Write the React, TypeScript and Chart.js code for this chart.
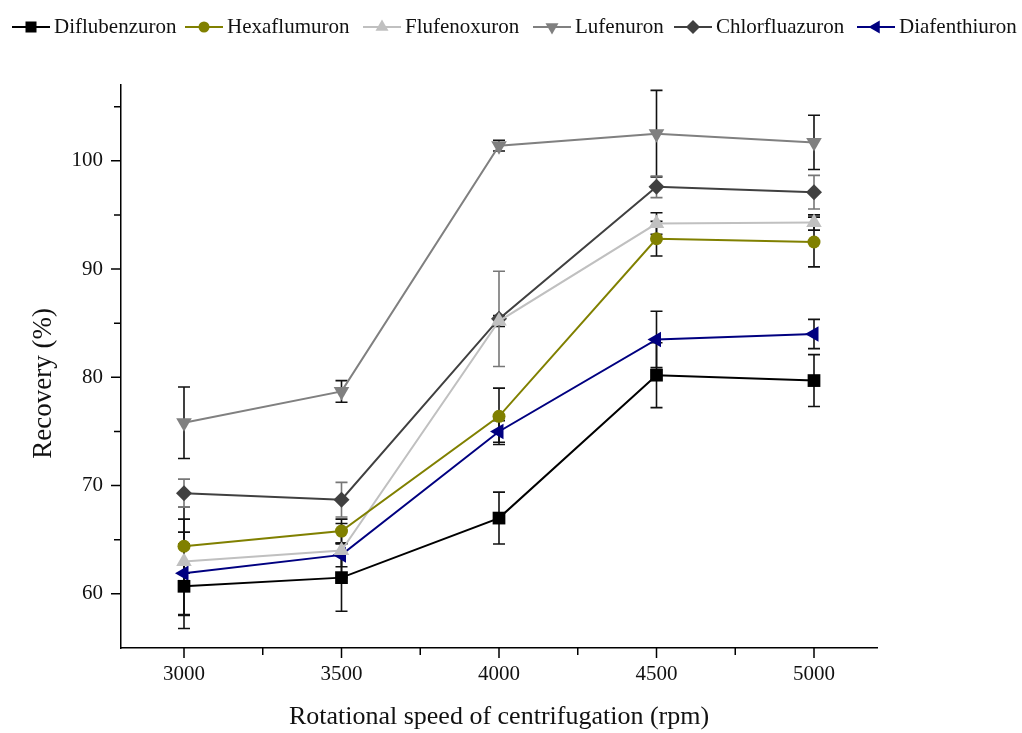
import React, { useEffect, useRef } from 'react';
import { Chart, registerables } from 'chart.js';

Chart.register(...registerables);

// ---- data ----
const speeds = [3000, 3500, 4000, 4500, 5000];

const diflubenzuron = [60.7, 61.5, 67.0, 80.2, 79.7];
const diflubenzuronErr = [3.9, 3.1, 2.4, 3.0, 2.4];

const hexaflumuron = [64.4, 65.8, 76.4, 92.8, 92.5];
const hexaflumuronErr = [2.5, 1.1, 2.6, 1.6, 2.3];

const flufenoxuron = [63.0, 64.0, 85.2, 94.2, 94.3];
const flufenoxuronErr = [5.0, 2.5, 0.5, 1.0, 0.7];

const lufenuron = [75.8, 78.7, 101.4, 102.5, 101.7];
const lufenuronErr = [3.3, 1.0, 0.5, 4.0, 2.5];

const chlorfluazuron = [69.3, 68.7, 85.4, 97.6, 97.1];
const chlorfluazuronErr = [1.3, 1.6, 4.4, 1.0, 1.55];

const diafenthiuron = [61.9, 63.6, 75.0, 83.5, 84.0];
const diafenthiuronErr = [3.8, 1.1, 1.0, 2.6, 1.35];

const yMajorTicks = [60, 70, 80, 90, 100];
const yMinorTicks = [65, 75, 85, 95, 105];
const xMajorTicks = [3000, 3500, 4000, 4500, 5000];
const xMinorTicks = [3250, 3750, 4250, 4750];

// ---- styles ----
const FONT = "'Liberation Serif', 'Times New Roman', serif";

type Series = {
  name: string;
  values: number[];
  errors: number[];
  color: string;
  errColor: string;
  pointStyle: string;
  rotation: number;
  radius: number;
};

const series: Series[] = [
  { name: 'Diflubenzuron', values: diflubenzuron, errors: diflubenzuronErr, color: '#000000', errColor: '#111111', pointStyle: 'rect', rotation: 0, radius: 9 },
  { name: 'Hexaflumuron', values: hexaflumuron, errors: hexaflumuronErr, color: '#808000', errColor: '#111111', pointStyle: 'circle', rotation: 0, radius: 6.5 },
  { name: 'Flufenoxuron', values: flufenoxuron, errors: flufenoxuronErr, color: '#c0c0c0', errColor: '#111111', pointStyle: 'triangle', rotation: 0, radius: 9 },
  { name: 'Lufenuron', values: lufenuron, errors: lufenuronErr, color: '#808080', errColor: '#111111', pointStyle: 'triangle', rotation: 180, radius: 9 },
  { name: 'Chlorfluazuron', values: chlorfluazuron, errors: chlorfluazuronErr, color: '#404040', errColor: '#777777', pointStyle: 'rectRot', rotation: 0, radius: 8 },
  { name: 'Diafenthiuron', values: diafenthiuron, errors: diafenthiuronErr, color: '#000080', errColor: '#111111', pointStyle: 'triangle', rotation: -90, radius: 9 },
];

const legendLefts = [12, 185, 363, 533, 674, 857];

const errorBarPlugin = {
  id: 'errorBars',
  beforeDatasetsDraw(chart: any) {
    const ctx = chart.ctx;
    const xs = chart.scales.x;
    const ys = chart.scales.y;
    chart.data.datasets.forEach((ds: any) => {
      ctx.save();
      ctx.strokeStyle = ds.errColor;
      ctx.lineWidth = 1.6;
      ds.data.forEach((p: any, i: number) => {
        const e = ds.errors[i];
        const px = xs.getPixelForValue(p.x);
        const top = ys.getPixelForValue(p.y + e);
        const bot = ys.getPixelForValue(p.y - e);
        ctx.beginPath();
        ctx.moveTo(px, top);
        ctx.lineTo(px, bot);
        ctx.moveTo(px - 6, top);
        ctx.lineTo(px + 6, top);
        ctx.moveTo(px - 6, bot);
        ctx.lineTo(px + 6, bot);
        ctx.stroke();
      });
      ctx.restore();
    });
  },
};

const tickPlugin = {
  id: 'customTicks',
  afterDraw(chart: any) {
    const ctx = chart.ctx;
    const xs = chart.scales.x;
    const ys = chart.scales.y;
    const { left, bottom } = chart.chartArea;
    ctx.save();
    ctx.strokeStyle = '#000';
    ctx.lineWidth = 1.5;
    ctx.beginPath();
    yMajorTicks.forEach((v) => {
      const y = ys.getPixelForValue(v);
      ctx.moveTo(left, y);
      ctx.lineTo(left - 10, y);
    });
    yMinorTicks.forEach((v) => {
      const y = ys.getPixelForValue(v);
      ctx.moveTo(left, y);
      ctx.lineTo(left - 7, y);
    });
    xMajorTicks.forEach((v) => {
      const x = xs.getPixelForValue(v);
      ctx.moveTo(x, bottom);
      ctx.lineTo(x, bottom + 10);
    });
    xMinorTicks.forEach((v) => {
      const x = xs.getPixelForValue(v);
      ctx.moveTo(x, bottom);
      ctx.lineTo(x, bottom + 7);
    });
    ctx.stroke();
    ctx.restore();
  },
};

function LegendIcon({ s }: { s: Series }) {
  const cx = 19;
  const cy = 10;
  let marker: React.ReactNode = null;
  const r = 7;
  if (s.pointStyle === 'rect') {
    marker = <rect x={cx - 5.5} y={cy - 5.5} width={11} height={11} fill={s.color} />;
  } else if (s.pointStyle === 'circle') {
    marker = <circle cx={cx} cy={cy} r={5.5} fill={s.color} />;
  } else if (s.pointStyle === 'rectRot') {
    marker = <polygon points={`${cx},${cy - r} ${cx + r},${cy} ${cx},${cy + r} ${cx - r},${cy}`} fill={s.color} />;
  } else {
    const pts: string[] = [];
    for (let k = 0; k < 3; k++) {
      const a = ((s.rotation + k * 120) * Math.PI) / 180;
      pts.push(`${cx + Math.sin(a) * 7.5},${cy - Math.cos(a) * 7.5}`);
    }
    marker = <polygon points={pts.join(' ')} fill={s.color} />;
  }
  return (
    <svg width={38} height={20} style={{ display: 'block' }}>
      <line x1={0} y1={cy} x2={38} y2={cy} stroke={s.color} strokeWidth={2.2} />
      {marker}
    </svg>
  );
}

export default function App() {
  const canvasRef = useRef<HTMLCanvasElement | null>(null);

  useEffect(() => {
    document.body.style.margin = '0';
    const canvas = canvasRef.current;
    if (!canvas) return;
    const chart = new Chart(canvas, {
      type: 'line',
      data: {
        datasets: series.map((s) => ({
          label: s.name,
          data: speeds.map((x, i) => ({ x, y: s.values[i] })),
          errors: s.errors,
          errColor: s.errColor,
          borderColor: s.color,
          backgroundColor: s.color,
          borderWidth: 2,
          pointStyle: s.pointStyle as any,
          rotation: s.rotation,
          pointRadius: s.radius,
          pointBorderWidth: 0,
          pointBackgroundColor: s.color,
          pointBorderColor: s.color,
          tension: 0,
          clip: false,
        })) as any,
      },
      options: {
        animation: false,
        responsive: true,
        maintainAspectRatio: false,
        layout: { padding: { top: 85, right: 145, left: 0, bottom: 0 } },
        plugins: {
          legend: { display: false },
          tooltip: { enabled: false },
        },
        scales: {
          x: {
            type: 'linear',
            min: 2800,
            max: 5200,
            afterFit: (scale: any) => {
              scale.height = 85;
            },
            afterBuildTicks: (scale: any) => {
              scale.ticks = xMajorTicks.map((v) => ({ value: v }));
            },
            grid: { display: true, drawOnChartArea: false, tickLength: 10, tickColor: 'rgba(0,0,0,0)' },
            border: { display: true, color: '#000', width: 1.5 },
            ticks: {
              color: '#111',
              padding: 4,
              maxRotation: 0,
              autoSkip: false,
              font: { family: FONT, size: 21 },
              callback: (v: any) => String(v),
            },
            title: {
              display: true,
              text: 'Rotational speed of centrifugation (rpm)',
              color: '#111',
              font: { family: FONT, size: 26 },
              padding: { top: 0, bottom: 0 },
            },
          },
          y: {
            type: 'linear',
            min: 55,
            max: 107,
            afterFit: (scale: any) => {
              scale.width = 121;
            },
            afterBuildTicks: (scale: any) => {
              scale.ticks = yMajorTicks.map((v) => ({ value: v }));
            },
            grid: { display: true, drawOnChartArea: false, tickLength: 10, tickColor: 'rgba(0,0,0,0)' },
            border: { display: true, color: '#000', width: 1.5 },
            ticks: {
              color: '#111',
              padding: 8,
              autoSkip: false,
              font: { family: FONT, size: 21 },
              callback: (v: any) => String(v),
            },
            title: {
              display: true,
              text: 'Recovery (%)     ',
              color: '#111',
              font: { family: FONT, size: 27 },
              padding: { top: 28, bottom: 0 },
            },
          },
        },
      },
      plugins: [errorBarPlugin, tickPlugin],
    });
    return () => chart.destroy();
  }, []);

  return (
    <div style={{ position: 'relative', width: 1022, height: 733, background: '#fff', overflow: 'hidden' }}>
      <canvas ref={canvasRef} />
      {series.map((s, i) => (
        <div
          key={s.name}
          style={{
            position: 'absolute',
            left: legendLefts[i],
            top: 14,
            display: 'flex',
            alignItems: 'center',
            fontFamily: FONT,
            fontSize: 21,
            color: '#111',
            whiteSpace: 'nowrap',
          }}
        >
          <LegendIcon s={s} />
          <span style={{ marginLeft: 4 }}>{s.name}</span>
        </div>
      ))}
    </div>
  );
}
